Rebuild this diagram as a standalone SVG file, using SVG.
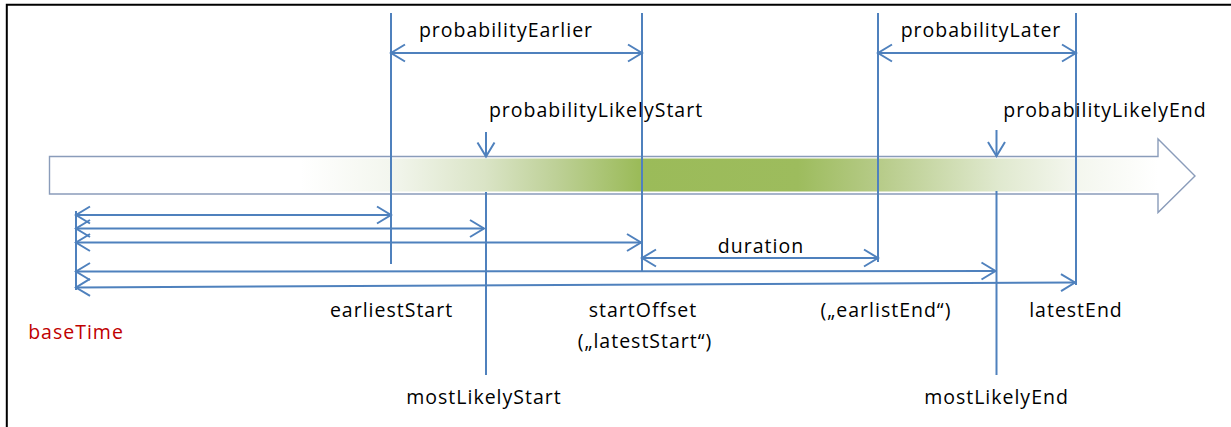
<svg xmlns="http://www.w3.org/2000/svg" width="1231" height="427" viewBox="0 0 1231 427">
  <style>
    .lbl { font-family: "Open Sans", "Liberation Sans", sans-serif; font-size: 19.5px; letter-spacing: 1px; fill: #000; text-anchor: middle; }
    .base { fill: #c00000; }
    .guide { stroke: #4f81bd; stroke-width: 2; fill: none; }
    .dim { stroke: #4f81bd; stroke-width: 2; fill: none; marker-start: url(#tip); marker-end: url(#tip); }
    .one { stroke: #4f81bd; stroke-width: 2; fill: none; marker-end: url(#tip); }
  </style>
  <defs>
    <marker id="tip" viewBox="-16 -10 18 20" markerWidth="18" markerHeight="20" markerUnits="userSpaceOnUse" refX="0" refY="0" orient="auto-start-reverse">
      <path d="M-14,-8.5 L0,0 L-14,8.5" fill="none" stroke="#4f81bd" stroke-width="2"/>
    </marker>
    <linearGradient id="band" gradientUnits="userSpaceOnUse" x1="300" y1="0" x2="1158" y2="0">
      <stop offset="0" stop-color="#ffffff"/>
      <stop offset="0.105" stop-color="#f3f6ee"/>
      <stop offset="0.215" stop-color="#dae4c6"/>
      <stop offset="0.30" stop-color="#bdd096"/>
      <stop offset="0.395" stop-color="#9bbb59"/>
      <stop offset="0.58" stop-color="#9dbc5d"/>
      <stop offset="0.67" stop-color="#b5ca86"/>
      <stop offset="0.815" stop-color="#e0e9cf"/>
      <stop offset="0.90" stop-color="#f3f6ed"/>
      <stop offset="1" stop-color="#ffffff"/>
    </linearGradient>
  </defs>

  <rect width="1231" height="427" fill="#ffffff"/>
  <!-- outer frame -->
  <path d="M6.8,427 V4.8 H1231" fill="none" stroke="#000" stroke-width="2"/>

  <!-- time axis arrow with the probability band -->
  <g id="timeline">
    <rect x="300" y="158.5" width="858" height="33" fill="url(#band)"/>
    <path d="M49.5,156.5 H1158 V139 L1195,176 L1158,212.5 V194 H49.5 Z" fill="none" stroke="#8a9cba" stroke-width="1.4"/>
  </g>

  <!-- guides and dimension arrows -->
  <g id="connectors">
    <!-- vertical guides -->
    <line class="guide" x1="391" y1="13" x2="391" y2="264"/>
    <line class="guide" x1="642" y1="13" x2="642" y2="271"/>
    <line class="guide" x1="878" y1="13" x2="878" y2="262"/>
    <line class="guide" x1="1076" y1="13" x2="1076" y2="285"/>
    <line class="guide" x1="486" y1="192" x2="486" y2="375"/>
    <line class="guide" x1="996.5" y1="191" x2="996.5" y2="375"/>
    <line class="guide" x1="76" y1="211" x2="76" y2="290"/>
    <!-- likely-point markers -->
    <line class="one" x1="486" y1="132" x2="486" y2="156.5"/>
    <line class="one" x1="996.5" y1="130" x2="996.5" y2="156"/>
    <!-- probability ranges -->
    <line class="dim" x1="391" y1="53" x2="642" y2="53"/>
    <line class="dim" x1="878" y1="53" x2="1076" y2="53"/>
    <!-- offsets from baseTime -->
    <line class="dim" x1="76" y1="215" x2="391" y2="215"/>
    <line class="dim" x1="76" y1="228.5" x2="484" y2="228.5"/>
    <line class="dim" x1="76" y1="242.5" x2="641" y2="242.5"/>
    <line class="dim" x1="76" y1="271.5" x2="995.5" y2="271"/>
    <line class="dim" x1="76" y1="287.5" x2="1075" y2="282.5"/>
    <!-- duration -->
    <line class="dim" x1="642" y1="258" x2="878" y2="258"/>
  </g>

  <g id="probabilityEarlier"><text class="lbl" x="506" y="37">probabilityEarlier</text></g>
  <g id="probabilityLater"><text class="lbl" x="981" y="37">probabilityLater</text></g>
  <g id="probabilityLikelyStart"><text class="lbl" x="596" y="117">probabilityLikelyStart</text></g>
  <g id="probabilityLikelyEnd"><text class="lbl" x="1105" y="117">probabilityLikelyEnd</text></g>
  <g id="duration"><text class="lbl" x="761" y="253">duration</text></g>
  <g id="baseTime"><text class="lbl base" x="76" y="339">baseTime</text></g>
  <g id="earliestStart"><text class="lbl" x="391.5" y="317">earliestStart</text></g>
  <g id="startOffset">
    <text class="lbl" x="643" y="317">startOffset</text>
    <text class="lbl" x="645" y="348">(„latestStart“)</text>
  </g>
  <g id="earliestEnd"><text class="lbl" x="886" y="317">(„earlistEnd“)</text></g>
  <g id="latestEnd"><text class="lbl" x="1076" y="317">latestEnd</text></g>
  <g id="mostLikelyStart"><text class="lbl" x="484" y="404">mostLikelyStart</text></g>
  <g id="mostLikelyEnd"><text class="lbl" x="996.5" y="404">mostLikelyEnd</text></g>
</svg>
